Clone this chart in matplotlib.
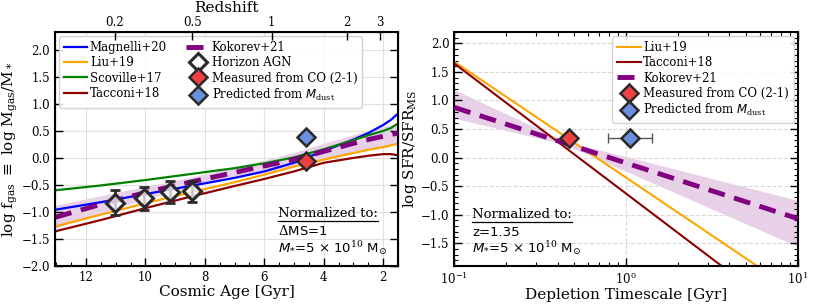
import numpy as np
import matplotlib
matplotlib.use("Agg")
import matplotlib.pyplot as plt
from matplotlib.ticker import MultipleLocator, LogLocator, NullFormatter
from matplotlib.lines import Line2D

plt.rcParams['font.family'] = 'DejaVu Serif'
plt.rcParams['mathtext.fontset'] = 'custom'
plt.rcParams['mathtext.rm'] = 'DejaVu Serif'
plt.rcParams['mathtext.it'] = 'DejaVu Sans:italic'
plt.rcParams['mathtext.bf'] = 'DejaVu Serif:bold'

# ---- left panel data (log f_gas vs cosmic age) ----
age_nodes = [13.04, 11.5, 10, 8.5, 7, 6, 5, 4, 3, 2.5, 2, 1.75, 1.5]
magnelli20 = [-0.96, -0.82, -0.67, -0.52, -0.37, -0.25, -0.09, 0.13, 0.34, 0.46, 0.61, 0.70, 0.82]
liu19 = [-1.27, -1.05, -0.84, -0.64, -0.45, -0.31, -0.16, -0.03, 0.09, 0.15, 0.20, 0.23, 0.26]
scoville17 = [-0.60, -0.51, -0.41, -0.30, -0.19, -0.10, 0.01, 0.16, 0.33, 0.42, 0.50, 0.55, 0.64]
tacconi18 = [-1.36, -1.15, -0.93, -0.72, -0.52, -0.39, -0.25, -0.09, 0.00, 0.04, 0.07, 0.07, 0.05]
kokorev21 = [-1.10, -0.86, -0.64, -0.45, -0.27, -0.15, -0.03, 0.12, 0.27, 0.34, 0.40, 0.43, 0.46]
kokorev21_hi = [-0.88, -0.70, -0.53, -0.36, -0.17, -0.04, 0.10, 0.27, 0.43, 0.51, 0.58, 0.61, 0.64]
kokorev21_lo = [-1.30, -1.02, -0.76, -0.55, -0.37, -0.27, -0.17, -0.04, 0.10, 0.16, 0.21, 0.23, 0.25]

hagn_z = [0.2, 0.3, 0.4, 0.5]
hagn_fgas = [-0.83, -0.75, -0.63, -0.62]
hagn_err = [0.23, 0.21, 0.20, 0.20]

obj_z = 1.35
co_fgas = -0.05
dust_fgas = 0.39

z_ticks = [0.2, 0.5, 1, 2, 3]

# ---- right panel data (log SFR/SFR_MS vs depletion time) ----
tdep_nodes = [0.1, 10]
liu19_r = [1.68, -2.38]
tacconi18_r = [1.65, -2.91]
kokorev21_r = [0.88, -1.07]
band_tdep = [0.1, 0.44, 10]
kokorev21_r_hi = [1.19, 0.29, -0.75]
kokorev21_r_lo = [0.69, 0.23, -1.56]

co_tdep, co_sfr = 0.467, 0.345
dust_tdep, dust_sfr = 1.05, 0.345
dust_tdep_err = [[0.26], [0.36]]


def age_gyr(z, H0=70.0, Om=0.3):
    # flat LCDM age at redshift z
    a_end = 1.0 / (1.0 + z)
    a = np.linspace(1e-6, a_end, 20000)
    f = 1.0 / np.sqrt(Om / a + (1 - Om) * a ** 2)
    return np.trapezoid(f, a) * 977.8 / H0


def style_axes(ax):
    ax.tick_params(which='both', direction='in', top=True, right=True, labelsize=8.5)
    ax.tick_params(which='major', length=6, width=1)
    ax.tick_params(which='minor', length=3, width=0.8)
    for s in ax.spines.values():
        s.set_linewidth(1.5)


def underlined(ax, x, y, s, **kw):
    t = ax.text(x, y, s, transform=ax.transAxes, **kw)
    fig.canvas.draw()
    bb = t.get_window_extent().transformed(ax.transAxes.inverted())
    ax.add_line(Line2D([bb.x0, bb.x1], [bb.y0 - 0.005, bb.y0 - 0.005], transform=ax.transAxes,
                       color='black', lw=0.9))
    return t


leg_kw = dict(fontsize=8.5, handlelength=2.0, labelspacing=0.2, borderpad=0.4,
              handletextpad=0.2, framealpha=0.85, edgecolor='#cccccc', borderaxespad=0.35)

fig = plt.figure(figsize=(8.14, 3.05), dpi=100)
ax1 = fig.add_axes([0.0676, 0.128, 0.4214, 0.767])
ax2 = fig.add_axes([0.558, 0.128, 0.422, 0.767])

# ---------------- left ----------------
ax1.grid(True, color='#e0e0e0', lw=0.8, zorder=0)
ax1.fill_between(age_nodes, kokorev21_lo, kokorev21_hi, color='purple', alpha=0.18, lw=0, zorder=1)
ax1.plot(age_nodes, magnelli20, color='blue', lw=1.6, label='Magnelli+20', zorder=2)
ax1.plot(age_nodes, liu19, color='orange', lw=1.6, label='Liu+19', zorder=2)
ax1.plot(age_nodes, scoville17, color='green', lw=1.6, label='Scoville+17', zorder=2)
ax1.plot(age_nodes, tacconi18, color='darkred', lw=1.6, label='Tacconi+18', zorder=2)
ax1.plot(age_nodes, kokorev21, color='purple', lw=3.5, ls=(0, (3.5, 2)), label='Kokorev+21', zorder=3)

hagn_age = [age_gyr(z) for z in hagn_z]
ax1.errorbar(hagn_age, hagn_fgas, yerr=hagn_err, fmt='none', ecolor='#2a2a2a',
             elinewidth=2, capsize=3.5, capthick=2, zorder=4)
ax1.plot(hagn_age, hagn_fgas, 'D', ms=9.5, mfc=(1, 1, 1, 0.75), mec='#2a2a2a', mew=2.2,
         ls='none', label='Horizon AGN', zorder=5)
obj_age = age_gyr(obj_z)
ax1.plot([obj_age], [co_fgas], 'D', ms=9.5, mfc='#f04040', mec='#2a2a2a', mew=1.8,
         ls='none', label='Measured from CO (2-1)', zorder=5)
ax1.plot([obj_age], [dust_fgas], 'D', ms=9.5, mfc='#6a8fdc', mec='#2a2a2a', mew=1.8,
         ls='none', label=r'Predicted from $M_{\rm dust}$', zorder=5)

ax1.set_xlim(13.04, 1.5)
ax1.set_ylim(-2.0, 2.33)
ax1.xaxis.set_major_locator(MultipleLocator(2))
ax1.xaxis.set_minor_locator(MultipleLocator(0.5))
ax1.yaxis.set_major_locator(MultipleLocator(0.5))
ax1.yaxis.set_minor_locator(MultipleLocator(0.1))
style_axes(ax1)
ax1.tick_params(which='both', top=False)
ax1.set_xlabel('Cosmic Age [Gyr]', fontsize=11, labelpad=1)
ax1.set_ylabel(r'log f$_{\rm gas}$ $\equiv$ log M$_{\rm gas}$/M$_*$', fontsize=11, labelpad=1)

top = ax1.twiny()
top.set_xlim(ax1.get_xlim())
top.set_xticks([age_gyr(z) for z in z_ticks])
top.set_xticklabels([f'{z:g}' for z in z_ticks])
top.tick_params(direction='in', length=6, width=1, labelsize=8.5, pad=2)
top.minorticks_off()
top.set_xlabel('Redshift', fontsize=11, labelpad=3)

ax1.legend(loc='upper left', ncol=2, columnspacing=1.6, **leg_kw)

underlined(ax1, 0.65, 0.226, 'Normalized to:', fontsize=9.5, va='center', ha='left')
ax1.text(0.65, 0.15, r'$\Delta$MS=1', transform=ax1.transAxes, fontsize=9.5,
         va='center', ha='left', family='DejaVu Sans')
ax1.text(0.65, 0.077, r'$M_{*}$=5 $\times$ 10$^{10}$ M$_{\odot}$', transform=ax1.transAxes,
         fontsize=9.5, va='center', ha='left', family='DejaVu Sans')

# ---------------- right ----------------
ax2.set_xscale('log')
ax2.grid(True, color='#d8d8d8', lw=0.8, ls='--', zorder=0)
ax2.fill_between(band_tdep, kokorev21_r_lo, kokorev21_r_hi, color='purple', alpha=0.18, lw=0, zorder=1)
ax2.plot(tdep_nodes, liu19_r, color='orange', lw=1.5, label='Liu+19', zorder=2)
ax2.plot(tdep_nodes, tacconi18_r, color='darkred', lw=1.5, label='Tacconi+18', zorder=2)
ax2.plot(tdep_nodes, kokorev21_r, color='purple', lw=3.5, ls=(0, (3.5, 2)), label='Kokorev+21', zorder=3)
ax2.plot([co_tdep], [co_sfr], 'D', ms=9.5, mfc='#f04040', mec='#2a2a2a', mew=1.8,
         ls='none', label='Measured from CO (2-1)', zorder=5)
ax2.errorbar([dust_tdep], [dust_sfr], xerr=dust_tdep_err, fmt='none', ecolor='#555555',
             elinewidth=1, capsize=3.5, zorder=4)
ax2.plot([dust_tdep], [dust_sfr], 'D', ms=9.5, mfc='#6a8fdc', mec='#2a2a2a', mew=1.8,
         ls='none', label=r'Predicted from $M_{\rm dust}$', zorder=5)

ax2.set_xlim(0.1, 10)
ax2.set_ylim(-1.9, 2.2)
ax2.xaxis.set_minor_locator(LogLocator(base=10, subs=np.arange(2, 10)))
ax2.xaxis.set_minor_formatter(NullFormatter())
ax2.yaxis.set_major_locator(MultipleLocator(0.5))
ax2.yaxis.set_minor_locator(MultipleLocator(0.1))
style_axes(ax2)
ax2.set_xlabel('Depletion Timescale [Gyr]', fontsize=11, labelpad=1)
ax2.set_ylabel(r'log SFR/SFR$_{\rm MS}$', fontsize=11, labelpad=1)

ax2.legend(loc='upper right', **leg_kw)

underlined(ax2, 0.052, 0.222, 'Normalized to:', fontsize=9.5, va='center', ha='left')
ax2.text(0.052, 0.141, 'z=1.35', transform=ax2.transAxes, fontsize=9.5,
         va='center', ha='left', family='DejaVu Sans')
ax2.text(0.052, 0.077, r'$M_{*}$=5 $\times$ 10$^{10}$ M$_{\odot}$', transform=ax2.transAxes,
         fontsize=9.5, va='center', ha='left', family='DejaVu Sans')

fig.savefig('out.png', dpi=100)
